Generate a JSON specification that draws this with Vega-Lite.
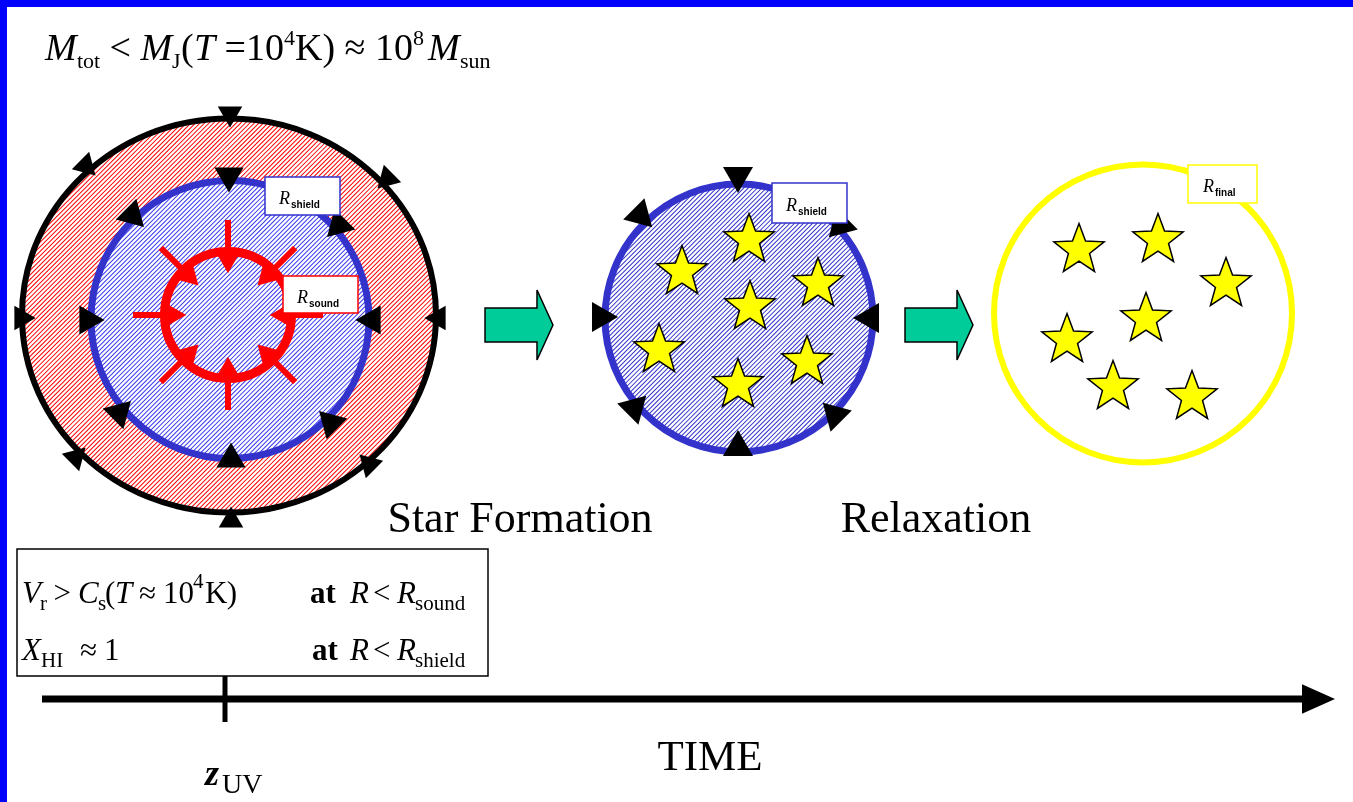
{
"$schema":"https://vega.github.io/schema/vega-lite/v6.json",
"width":1346,"height":795,
"autosize":{"type":"none"},
"padding":{"left":7,"top":7,"right":0,"bottom":0},
"background":"#0000ff",
"config":{"view":{"stroke":null,"fill":"#ffffff"}},
"datasets":{
"bandL":[{"x":84,"y":170.5,"x2":374,"y2":460.5}],
"cL":[{"x":229,"y":315.5}],
"cLi":[{"x":230,"y":319.5}],
"cRed":[{"x":228,"y":315}],
"stem":[{"x":228,"y":220,"x2":228,"y2":252},{"x":295.2,"y":247.8,"x2":272.5,"y2":270.5},{"x":323,"y":315,"x2":291,"y2":315},{"x":295.2,"y":382.2,"x2":272.5,"y2":359.5},{"x":228,"y":410,"x2":228,"y2":378},{"x":160.8,"y":382.2,"x2":183.5,"y2":359.5},{"x":133,"y":315,"x2":165,"y2":315},{"x":160.8,"y":247.8,"x2":183.5,"y2":270.5}],
"head":[{"x":228,"y":263,"dir":180},{"x":264.8,"y":278.2,"dir":225},{"x":280,"y":315,"dir":270},{"x":264.8,"y":351.8,"dir":315},{"x":228,"y":367,"dir":0},{"x":191.2,"y":351.8,"dir":45},{"x":176,"y":315,"dir":90},{"x":191.2,"y":278.2,"dir":135}],
"arrO":[{"x":230,"y":117,"dir":180},{"x":88,"y":168,"dir":135},{"x":385,"y":181,"dir":225},{"x":25,"y":318,"dir":90},{"x":435,"y":318,"dir":270},{"x":78,"y":455,"dir":45},{"x":367,"y":462,"dir":315},{"x":231,"y":517,"dir":0}],
"arrI":[{"x":229,"y":180,"dir":180},{"x":135,"y":218,"dir":135},{"x":336,"y":228,"dir":225},{"x":92,"y":320,"dir":90},{"x":368,"y":320,"dir":270},{"x":122,"y":410,"dir":45},{"x":328,"y":420,"dir":315},{"x":231,"y":455,"dir":0}],
"arrM":[{"x":738,"y":180,"dir":180},{"x":643,"y":218,"dir":135},{"x":838,"y":228,"dir":225},{"x":605,"y":317,"dir":90},{"x":866,"y":318,"dir":270},{"x":637,"y":405,"dir":45},{"x":832,"y":412,"dir":315},{"x":738,"y":443,"dir":0}],
"bandM":[{"x":642.1,"y":221.1,"x2":835.9,"y2":414.9}],
"cM":[{"x":739,"y":318}],
"cY":[{"x":1143,"y":313.5}],
"stars":[{"x":749,"y":240},{"x":682,"y":272},{"x":818,"y":284},{"x":750,"y":307},{"x":659,"y":350},{"x":807,"y":362},{"x":738,"y":385},{"x":1079,"y":250},{"x":1158,"y":240},{"x":1226,"y":284},{"x":1146,"y":319},{"x":1067,"y":340},{"x":1113,"y":387},{"x":1192,"y":397}],
"grn":[{"x":519,"y":325},{"x":939,"y":325}],
"boxB":[{"x":265,"y":177,"x2":340,"y2":215},{"x":772,"y":183,"x2":847,"y2":223}],
"boxR":[{"x":283,"y":276,"x2":358,"y2":313}],
"boxY":[{"x":1188,"y":165,"x2":1257,"y2":203}],
"boxK":[{"x":17,"y":549,"x2":488,"y2":676}],
"axisL":[{"x":42,"y":699,"x2":1306,"y2":699}],
"tick":[{"x":225,"y":676,"x2":225,"y2":722}],
"tip":[{"x":1318.5,"y":699}],
"tTopIt":[{"x":45,"y":60,"t":"M"},{"x":140.5,"y":60,"t":"M"},{"x":194,"y":60,"t":"T"},{"x":428,"y":60,"t":"M"}],
"tTopRm":[{"x":109.5,"y":60,"t":"<"},{"x":181,"y":60,"t":"("},{"x":224.5,"y":60,"t":"="},{"x":246,"y":60,"t":"10"},{"x":295,"y":60,"t":"K"},{"x":322.5,"y":60,"t":")"},{"x":344.5,"y":60,"t":"≈"},{"x":375,"y":60,"t":"10"}],
"tTopSub":[{"x":77,"y":68,"t":"tot"},{"x":172,"y":68,"t":"J"},{"x":460,"y":68,"t":"sun"}],
"tTopSup":[{"x":284,"y":45,"t":"4"},{"x":413,"y":45,"t":"8"}],
"tBoxIt":[{"x":22,"y":603,"t":"V"},{"x":78,"y":603,"t":"C"},{"x":115,"y":603,"t":"T"},{"x":350,"y":603,"t":"R"},{"x":397,"y":603,"t":"R"},{"x":22,"y":660,"t":"X"},{"x":350,"y":660,"t":"R"},{"x":397,"y":660,"t":"R"}],
"tBoxRm":[{"x":53.5,"y":603,"t":">"},{"x":105,"y":603,"t":"("},{"x":139,"y":603,"t":"≈"},{"x":163,"y":603,"t":"10"},{"x":205,"y":603,"t":"K"},{"x":226.7,"y":603,"t":")"},{"x":373,"y":603,"t":"<"},{"x":80,"y":660,"t":"≈"},{"x":104,"y":660,"t":"1"},{"x":373,"y":660,"t":"<"}],
"tBoxSub":[{"x":40,"y":610,"t":"r"},{"x":98,"y":610,"t":"s"},{"x":415,"y":610,"t":"sound"},{"x":41,"y":667,"t":"HI"},{"x":415,"y":667,"t":"shield"}],
"tBoxSup":[{"x":193,"y":588,"t":"4"}],
"tBoxBold":[{"x":310,"y":603,"t":"at"},{"x":312,"y":660,"t":"at"}],
"tLab":[{"x":520,"y":532,"t":"Star Formation"},{"x":936,"y":532,"t":"Relaxation"}],
"tTime":[{"x":710,"y":770,"t":"TIME"}],
"tZ":[{"x":205,"y":785,"t":"z"}],
"tUV":[{"x":222,"y":793,"t":"UV"}],
"tSR":[{"x":279,"y":204,"t":"R"},{"x":297,"y":303,"t":"R"},{"x":786,"y":211,"t":"R"},{"x":1203,"y":192,"t":"R"}],
"tSSub":[{"x":291,"y":208,"t":"shield"},{"x":309,"y":307,"t":"sound"},{"x":798,"y":215,"t":"shield"},{"x":1215,"y":196,"t":"final"}]
},
"encoding":{
"x":{"field":"x","type":"quantitative","scale":{"domain":[7,1353],"nice":false,"zero":false},"axis":null},
"y":{"field":"y","type":"quantitative","scale":{"domain":[7,802],"nice":false,"zero":false,"reverse":true},"axis":null}
},
"layer":[
{"data":{"name":"bandL"},"mark":{"type":"rule","color":"#ff0000","strokeWidth":410,"strokeDash":[1.0,2.2],"strokeCap":"butt","clip":true},"encoding":{"x2":{"field":"x2"},"y2":{"field":"y2"}}},
{"data":{"name":"cL"},"mark":{"type":"point","shape":"M-1,0C-1,-0.5305,-0.552,-0.961,0,-0.961C0.552,-0.961,1,-0.5305,1,0C1,0.5305,0.552,0.961,0,0.961C-0.552,0.961,-1,0.5305,-1,0Z","size":264196,"filled":false,"stroke":"#ffffff","strokeWidth":100,"opacity":1,"clip":true}},
{"data":{"name":"cLi"},"mark":{"type":"point","shape":"circle","size":77284,"filled":true,"fill":"#3333cc","stroke":null,"opacity":1,"blend":"color"}},
{"data":{"name":"cL"},"mark":{"type":"point","shape":"M-1,0C-1,-0.5255,-0.552,-0.952,0,-0.952C0.552,-0.952,1,-0.5255,1,0C1,0.5255,0.552,0.952,0,0.952C-0.552,0.952,-1,0.5255,-1,0Z","size":171396,"filled":false,"stroke":"#000000","strokeWidth":6,"opacity":1}},
{"data":{"name":"cLi"},"mark":{"type":"point","shape":"circle","size":77284,"filled":false,"stroke":"#3333cc","strokeWidth":7,"opacity":1}},
{"data":{"name":"cRed"},"mark":{"type":"point","shape":"circle","size":16129,"filled":false,"stroke":"#ff0000","strokeWidth":9,"opacity":1}},
{"data":{"name":"stem"},"mark":{"type":"rule","color":"#ff0000","strokeWidth":6,"strokeCap":"butt"},"encoding":{"x2":{"field":"x2"},"y2":{"field":"y2"}}},
{"data":{"name":"head"},"mark":{"type":"point","shape":"triangle-up","size":560,"filled":true,"fill":"#ff0000","stroke":null,"opacity":1},"encoding":{"angle":{"field":"dir","type":"quantitative","scale":null}}},
{"data":{"name":"arrO"},"mark":{"type":"point","shape":"triangle-up","size":600,"filled":true,"fill":"#000000","stroke":null,"opacity":1},"encoding":{"angle":{"field":"dir","type":"quantitative","scale":null}}},
{"data":{"name":"arrI"},"mark":{"type":"point","shape":"triangle-up","size":850,"filled":true,"fill":"#000000","stroke":null,"opacity":1},"encoding":{"angle":{"field":"dir","type":"quantitative","scale":null}}},
{"data":{"name":"bandM"},"mark":{"type":"rule","color":"#3333cc","strokeWidth":274,"strokeDash":[1.0,2.2],"strokeCap":"butt","clip":true},"encoding":{"x2":{"field":"x2"},"y2":{"field":"y2"}}},
{"data":{"name":"cM"},"mark":{"type":"point","shape":"circle","size":110224,"filled":false,"stroke":"#ffffff","strokeWidth":64,"opacity":1,"clip":true}},
{"data":{"name":"cM"},"mark":{"type":"point","shape":"circle","size":71824,"filled":false,"stroke":"#3333cc","strokeWidth":7,"opacity":1}},
{"data":{"name":"arrM"},"mark":{"type":"point","shape":"triangle-up","size":900,"filled":true,"fill":"#000000","stroke":null,"opacity":1},"encoding":{"angle":{"field":"dir","type":"quantitative","scale":null}}},
{"data":{"name":"cY"},"mark":{"type":"point","shape":"circle","size":88804,"filled":false,"stroke":"#ffff00","strokeWidth":6,"opacity":1}},
{"data":{"name":"stars"},"mark":{"type":"point","shape":"M0,-1L0.247,-0.34L0.951,-0.309L0.399,0.13L0.588,0.809L0,0.42L-0.588,0.809L-0.399,0.13L-0.951,-0.309L-0.247,-0.34Z","size":2800,"filled":true,"fill":"#ffff00","stroke":"#000000","strokeWidth":1.5,"opacity":1}},
{"data":{"name":"grn"},"mark":{"type":"point","shape":"M-0.971,-0.486L0.514,-0.486L0.514,-1L0.971,0L0.514,1L0.514,0.486L-0.971,0.486Z","size":4900,"filled":true,"fill":"#00cc99","stroke":"#000000","strokeWidth":1.5,"opacity":1}},
{"data":{"name":"boxB"},"mark":{"type":"rect","fill":"#ffffff","stroke":"#3333cc","strokeWidth":1.5},"encoding":{"x2":{"field":"x2"},"y2":{"field":"y2"}}},
{"data":{"name":"boxR"},"mark":{"type":"rect","fill":"#ffffff","stroke":"#ff0000","strokeWidth":1.5},"encoding":{"x2":{"field":"x2"},"y2":{"field":"y2"}}},
{"data":{"name":"boxY"},"mark":{"type":"rect","fill":"#ffffff","stroke":"#ffff00","strokeWidth":1.5},"encoding":{"x2":{"field":"x2"},"y2":{"field":"y2"}}},
{"data":{"name":"boxK"},"mark":{"type":"rect","fill":"#ffffff","stroke":"#000000","strokeWidth":1.5},"encoding":{"x2":{"field":"x2"},"y2":{"field":"y2"}}},
{"data":{"name":"axisL"},"mark":{"type":"rule","color":"#000000","strokeWidth":7,"strokeCap":"butt"},"encoding":{"x2":{"field":"x2"},"y2":{"field":"y2"}}},
{"data":{"name":"tick"},"mark":{"type":"rule","color":"#000000","strokeWidth":5,"strokeCap":"butt"},"encoding":{"x2":{"field":"x2"},"y2":{"field":"y2"}}},
{"data":{"name":"tip"},"mark":{"type":"point","shape":"M-1,-0.9L1,0L-1,0.9Z","size":1089,"filled":true,"fill":"#000000","stroke":null,"opacity":1}},
{"data":{"name":"tTopIt"},"mark":{"type":"text","font":"Liberation Serif","fontStyle":"italic","fontSize":38,"align":"left","baseline":"alphabetic","color":"#000000"},"encoding":{"text":{"field":"t"}}},
{"data":{"name":"tTopRm"},"mark":{"type":"text","font":"Liberation Serif","fontSize":38,"align":"left","baseline":"alphabetic","color":"#000000"},"encoding":{"text":{"field":"t"}}},
{"data":{"name":"tTopSub"},"mark":{"type":"text","font":"Liberation Serif","fontSize":22,"align":"left","baseline":"alphabetic","color":"#000000"},"encoding":{"text":{"field":"t"}}},
{"data":{"name":"tTopSup"},"mark":{"type":"text","font":"Liberation Serif","fontSize":22,"align":"left","baseline":"alphabetic","color":"#000000"},"encoding":{"text":{"field":"t"}}},
{"data":{"name":"tBoxIt"},"mark":{"type":"text","font":"Liberation Serif","fontStyle":"italic","fontSize":31,"align":"left","baseline":"alphabetic","color":"#000000"},"encoding":{"text":{"field":"t"}}},
{"data":{"name":"tBoxRm"},"mark":{"type":"text","font":"Liberation Serif","fontSize":31,"align":"left","baseline":"alphabetic","color":"#000000"},"encoding":{"text":{"field":"t"}}},
{"data":{"name":"tBoxSub"},"mark":{"type":"text","font":"Liberation Serif","fontSize":21,"align":"left","baseline":"alphabetic","color":"#000000"},"encoding":{"text":{"field":"t"}}},
{"data":{"name":"tBoxSup"},"mark":{"type":"text","font":"Liberation Serif","fontSize":21,"align":"left","baseline":"alphabetic","color":"#000000"},"encoding":{"text":{"field":"t"}}},
{"data":{"name":"tBoxBold"},"mark":{"type":"text","font":"Liberation Serif","fontWeight":"bold","fontSize":31,"align":"left","baseline":"alphabetic","color":"#000000"},"encoding":{"text":{"field":"t"}}},
{"data":{"name":"tLab"},"mark":{"type":"text","font":"Liberation Serif","fontSize":44,"align":"center","baseline":"alphabetic","color":"#000000"},"encoding":{"text":{"field":"t"}}},
{"data":{"name":"tTime"},"mark":{"type":"text","font":"Liberation Serif","fontSize":43,"align":"center","baseline":"alphabetic","color":"#000000"},"encoding":{"text":{"field":"t"}}},
{"data":{"name":"tZ"},"mark":{"type":"text","font":"Liberation Serif","fontStyle":"italic","fontWeight":"bold","fontSize":36,"align":"left","baseline":"alphabetic","color":"#000000"},"encoding":{"text":{"field":"t"}}},
{"data":{"name":"tUV"},"mark":{"type":"text","font":"Liberation Serif","fontSize":28,"align":"left","baseline":"alphabetic","color":"#000000"},"encoding":{"text":{"field":"t"}}},
{"data":{"name":"tSR"},"mark":{"type":"text","font":"Liberation Serif","fontStyle":"italic","fontSize":18,"align":"left","baseline":"alphabetic","color":"#000000"},"encoding":{"text":{"field":"t"}}},
{"data":{"name":"tSSub"},"mark":{"type":"text","font":"Liberation Sans","fontWeight":"bold","fontSize":10,"align":"left","baseline":"alphabetic","color":"#000000"},"encoding":{"text":{"field":"t"}}}
]
}
